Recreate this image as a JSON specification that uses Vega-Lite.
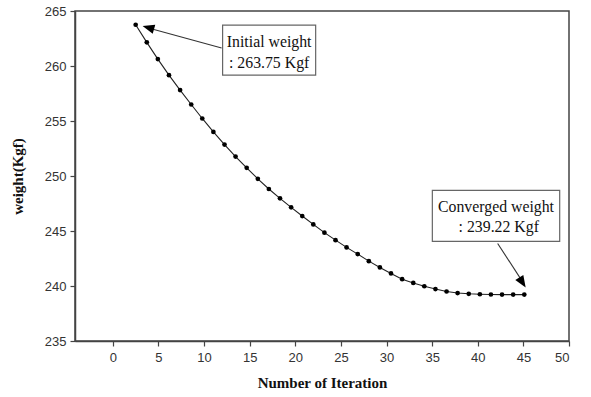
{
  "$schema": "https://vega.github.io/schema/vega-lite/v6.json",
  "autosize": "none",
  "width": 494,
  "height": 330,
  "padding": {"left": 75, "top": 11, "right": 22, "bottom": 56},
  "background": "white",
  "config": {
    "view": {"stroke": "#444", "strokeWidth": 1.5},
    "axis": {
      "domainColor": "#444",
      "domainWidth": 1.5,
      "tickColor": "#444",
      "tickWidth": 1.2,
      "tickSize": 5,
      "grid": false,
      "labelFont": "Liberation Sans",
      "labelFontSize": 13,
      "labelColor": "#333",
      "titleFont": "Liberation Serif",
      "titleFontSize": 15,
      "titleFontWeight": "bold",
      "titleColor": "#111"
    }
  },
  "layer": [
    {
      "data": {"values": [
        {"iter": 2.50, "weight": 263.75},
        {"iter": 3.72, "weight": 262.15},
        {"iter": 4.93, "weight": 260.63},
        {"iter": 6.15, "weight": 259.17},
        {"iter": 7.37, "weight": 257.81},
        {"iter": 8.59, "weight": 256.50},
        {"iter": 9.80, "weight": 255.23},
        {"iter": 11.02, "weight": 254.01},
        {"iter": 12.24, "weight": 252.86},
        {"iter": 13.45, "weight": 251.77},
        {"iter": 14.67, "weight": 250.74},
        {"iter": 15.89, "weight": 249.74},
        {"iter": 17.10, "weight": 248.82},
        {"iter": 18.32, "weight": 247.97},
        {"iter": 19.54, "weight": 247.15},
        {"iter": 20.76, "weight": 246.36},
        {"iter": 21.97, "weight": 245.60},
        {"iter": 23.19, "weight": 244.85},
        {"iter": 24.41, "weight": 244.17},
        {"iter": 25.62, "weight": 243.51},
        {"iter": 26.84, "weight": 242.90},
        {"iter": 28.06, "weight": 242.26},
        {"iter": 29.27, "weight": 241.69},
        {"iter": 30.49, "weight": 241.14},
        {"iter": 31.71, "weight": 240.62},
        {"iter": 32.93, "weight": 240.28},
        {"iter": 34.14, "weight": 239.98},
        {"iter": 35.36, "weight": 239.72},
        {"iter": 36.58, "weight": 239.50},
        {"iter": 37.79, "weight": 239.36},
        {"iter": 39.01, "weight": 239.29},
        {"iter": 40.23, "weight": 239.25},
        {"iter": 41.44, "weight": 239.23},
        {"iter": 42.66, "weight": 239.22},
        {"iter": 43.88, "weight": 239.22},
        {"iter": 45.10, "weight": 239.22}
      ]},
      "layer": [
        {
          "mark": {"type": "line", "color": "#222", "strokeWidth": 1.1},
          "encoding": {
            "x": {
              "field": "iter", "type": "quantitative",
              "scale": {"domain": [-4.15, 50], "nice": false, "zero": false},
              "axis": {"values": [0, 5, 10, 15, 20, 25, 30, 35, 40, 45, 50], "title": "Number of Iteration", "labelPadding": 5, "titlePadding": 11}
            },
            "y": {
              "field": "weight", "type": "quantitative",
              "scale": {"domain": [235, 265], "nice": false, "zero": false},
              "axis": {"values": [235, 240, 245, 250, 255, 260, 265], "title": "weight(Kgf)", "labelPadding": 4, "titlePadding": 19}
            }
          }
        },
        {
          "mark": {"type": "point", "filled": true, "color": "#000", "size": 22, "opacity": 1},
          "encoding": {
            "x": {"field": "iter", "type": "quantitative"},
            "y": {"field": "weight", "type": "quantitative"}
          }
        }
      ]
    },
    {
      "data": {"values": [
        {"x1": 12.03, "x2": 22.23, "y1": 263.72, "y2": 259.17},
        {"x1": 35.02, "x2": 48.98, "y1": 248.70, "y2": 244.05}
      ]},
      "mark": {"type": "rect", "fill": "white", "stroke": "#666", "strokeWidth": 1.2},
      "encoding": {
        "x": {"field": "x1", "type": "quantitative"},
        "x2": {"field": "x2"},
        "y": {"field": "y1", "type": "quantitative"},
        "y2": {"field": "y2"}
      }
    },
    {
      "data": {"values": [
        {"x": 17.13, "y": 262.20, "label": "Initial weight"},
        {"x": 17.13, "y": 260.26, "label": ": 263.75 Kgf"},
        {"x": 42.0, "y": 247.15, "label": "Converged weight"},
        {"x": 42.3, "y": 245.33, "label": ": 239.22 Kgf"}
      ]},
      "mark": {"type": "text", "font": "Liberation Serif", "fontSize": 15.8, "color": "#111", "align": "center", "baseline": "middle"},
      "encoding": {
        "x": {"field": "x", "type": "quantitative"},
        "y": {"field": "y", "type": "quantitative"},
        "text": {"field": "label"}
      }
    },
    {
      "data": {"values": [
        {"x1": 11.92, "y1": 261.63, "x2": 3.9, "y2": 263.45},
        {"x1": 42.18, "y1": 243.87, "x2": 44.9, "y2": 240.4}
      ]},
      "mark": {"type": "rule", "color": "#333", "strokeWidth": 1.1},
      "encoding": {
        "x": {"field": "x1", "type": "quantitative"},
        "y": {"field": "y1", "type": "quantitative"},
        "x2": {"field": "x2"},
        "y2": {"field": "y2"}
      }
    },
    {
      "data": {"values": [{"x": 3.26, "y": 263.63}]},
      "mark": {"type": "point", "shape": "M0,0L-0.4,1L0.4,1Z", "filled": true, "color": "#000", "opacity": 1, "size": 560, "angle": 285.6},
      "encoding": {
        "x": {"field": "x", "type": "quantitative"},
        "y": {"field": "y", "type": "quantitative"}
      }
    },
    {
      "data": {"values": [{"x": 45.25, "y": 239.86}]},
      "mark": {"type": "point", "shape": "M0,0L-0.4,1L0.4,1Z", "filled": true, "color": "#000", "opacity": 1, "size": 560, "angle": 147.5},
      "encoding": {
        "x": {"field": "x", "type": "quantitative"},
        "y": {"field": "y", "type": "quantitative"}
      }
    }
  ]
}
